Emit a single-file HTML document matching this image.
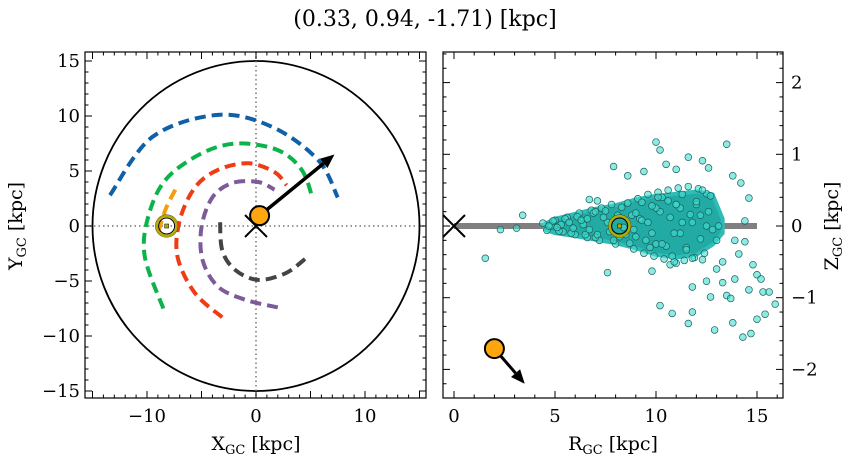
<!DOCTYPE html>
<html><head><meta charset="utf-8"><style>
body{margin:0;background:#fff}
svg text{font-family:"DejaVu Serif","Liberation Serif",serif;fill:#000}
</style></head><body>
<svg id="c" width="854" height="464" viewBox="0 0 854 464" xmlns="http://www.w3.org/2000/svg">
<text x="425" y="26" text-anchor="middle" font-size="22">(0.33, 0.94, -1.71) [kpc]</text>
<g id="L"></g>
<g id="R"></g>
</svg>
<script>
// ---- data: left panel arcs ----
const arcBlueX=[-13.4,-9.5,-3.5,1.5,5.7,7.5], arcBlueY=[2.8,8.1,10.1,9.0,6.0,2.6];
const arcGreenX=[-8.5,-10.2,-9.9,-8.3,-5.0,-1.7,2.0,4.2,5.2], arcGreenY=[-7.5,-2.8,0.8,4.2,6.6,7.5,6.9,5.1,2.5];
const arcRedX=[-3.1,-5.6,-7.2,-7.0,-5.6,-3.5,-0.7,1.7,2.8], arcRedY=[-8.3,-6.1,-2.8,0.5,3.5,5.1,5.7,4.9,3.7];
const arcPurpleX=[2.0,-1.0,-3.5,-4.9,-5.0,-4.0,-2.2,0.2,1.7], arcPurpleY=[-7.4,-6.7,-5.5,-3.1,-0.1,2.6,3.9,4.0,3.3];
const arcGrayX=[4.5,2.7,0.2,-1.9,-3.1,-3.3], arcGrayY=[-3.0,-4.3,-4.9,-4.0,-2.2,0.8];
const arcOrangeX=[-7.4,-8.3,-9.1], arcOrangeY=[3.3,1.5,-1.0];
const objXYZ=[0.33,0.94,-1.71], objVelTipXY=[7.2,6.5], sunX=-8.2, objR=2.0, objVelTipRZ=[3.5,-2.2], sunR=8.2;
const xTicksL=[-10,0,10], yTicksL=[-15,-10,-5,0,5,10,15];
// ---- data: right panel scatter ----
const coreR=[4.5,5,6,7,8,9,10,11,12,12.8,13.3];
const coreZhi=[0.03,0.1,0.17,0.24,0.29,0.37,0.42,0.45,0.48,0.44,0.1];
const coreZlo=[-0.05,-0.1,-0.14,-0.19,-0.24,-0.31,-0.4,-0.44,-0.4,-0.26,-0.1];
const starR=[10.0,10.2,13.5,7.9,8.6,9.4,10.5,11.0,11.6,12.3,12.6,13.8,14.2,14.6,6.7,7.1,3.4,2.3,3.1,1.55,7.6,9.8,10.2,10.8,11.8,11.6,11.8,12.7,13.5,13.7,12.5,13.3,13.9,14.8,15.0,15.2,14.6,15.3,15.6,15.9,15.0,15.4,14.4,14.1,14.4,13.9,13.0,13.3,12.3,11.0,10.7,12.9,13.8,14.3,14.7,
5.0,5.6,6.2,6.8,7.3,7.8,8.6,9.1,9.6,10.1,10.6,11.1,11.6,12.1,12.5,5.4,6.0,6.6,7.2,8.0,8.9,9.4,9.9,10.4,10.9,11.4,11.9,12.4,4.8,6.4,7.6,8.4,9.2,10.2,11.2,12.2,9.0,9.8,10.6,11.5,12.0,8.8,10.0,11.3,
4.4,4.6,4.9,5.2,5.5,5.8,6.1,6.5,6.9,7.0,7.5,7.9,8.3,8.7,9.3,9.7,10.3,10.8,11.3,11.8,12.3,12.7,13.0,4.7,5.3,5.9,6.3,6.7,7.4,7.7,8.1,8.5,9.0,9.5,10.0,10.5,11.0,11.5,12.0,12.6,13.1,5.1,5.7,6.6,7.1,8.9,9.3,9.8,10.3,10.7,11.2,11.7,12.2,12.8,8.2,9.6,10.9,11.8,12.5,7.0,10.1,11.0];
const starZ=[1.17,1.06,1.14,0.83,0.70,0.76,0.86,0.79,0.96,0.91,0.81,0.70,0.60,0.39,0.37,0.35,0.15,-0.05,-0.03,-0.45,-0.65,-0.63,-1.11,-1.22,-1.20,-1.36,-0.85,-0.99,-0.97,-1.01,-0.77,-0.79,-0.74,-0.54,-0.68,-0.74,-0.89,-0.92,-0.92,-1.09,-1.30,-1.23,-0.22,-0.39,0.07,-0.20,-0.60,-0.50,-0.47,-0.52,-0.54,-1.45,-1.35,-1.55,-1.5,
0.08,0.12,0.18,0.22,0.25,0.3,0.32,0.38,0.44,0.47,0.5,0.53,0.55,0.52,0.45,-0.08,-0.12,-0.16,-0.2,-0.25,-0.32,-0.38,-0.42,-0.46,-0.5,-0.48,-0.44,-0.38,0.0,0.02,0.05,-0.02,0.1,0.2,0.25,0.15,-0.15,-0.1,0.35,-0.3,0.3,0.15,-0.25,0.05,
0.04,-0.06,0.07,-0.07,0.1,-0.1,0.13,-0.12,0.18,-0.16,0.21,-0.2,0.26,-0.24,0.33,-0.3,0.4,-0.42,0.44,-0.45,0.5,0.42,-0.2,0.0,0.02,-0.03,0.08,-0.05,0.12,-0.08,0.15,-0.12,0.18,-0.2,0.25,-0.28,0.3,-0.33,0.34,0.2,0.0,-0.02,0.05,0.1,-0.12,-0.05,0.08,0.28,-0.25,0.12,-0.1,0.16,-0.18,-0.05,-0.15,0.05,-0.1,0.05,0.0,0.2,0.4,0.3];
const xTicksR=[0,5,10,15], zTicksR=[-2,-1,0,1,2];

const NS="http://www.w3.org/2000/svg";
function mk(p,t,a){const e=document.createElementNS(NS,t);for(const k in a)e.setAttribute(k,a[k]);p.appendChild(e);return e;}
const L=document.getElementById('L');
const lx=v=>256+v*10.9, ly=v=>226-v*11;
const LX0=85,LX1=426,LY0=52,LY1=398;
const cp=mk(L,'clipPath',{id:'cl'});mk(cp,'rect',{x:LX0,y:LY0,width:LX1-LX0,height:LY1-LY0});
const gl=mk(L,'g',{'clip-path':'url(#cl)'});
let e=mk(gl,'ellipse',{cx:lx(0),cy:ly(0),rx:15*10.9,ry:15*11,fill:'none',stroke:'#000','stroke-width':1.8});

e=mk(gl,'line',{x1:LX0,x2:LX1,y1:ly(0),y2:ly(0),stroke:'#777','stroke-width':1.5,'stroke-dasharray':'1.5 3'});

e=mk(gl,'line',{x1:lx(0),x2:lx(0),y1:LY0,y2:LY1,stroke:'#777','stroke-width':1.5,'stroke-dasharray':'1.5 3'});

function smooth(xs,ys,fx,fy){const P=xs.map((x,i)=>[fx(x),fy(ys[i])]);let d='M'+P[0].join(',');
 for(let i=0;i<P.length-1;i++){const p0=P[i-1]||P[i],p1=P[i],p2=P[i+1],p3=P[i+2]||p2;
 d+=' C'+(p1[0]+(p2[0]-p0[0])/6)+','+(p1[1]+(p2[1]-p0[1])/6)+' '+(p2[0]-(p3[0]-p1[0])/6)+','+(p2[1]-(p3[1]-p1[1])/6)+' '+p2[0]+','+p2[1];}return d;}
const arcs=[[arcBlueX,arcBlueY,'#1060a8','arc-blue'],[arcGreenX,arcGreenY,'#0cb34a','arc-green'],[arcRedX,arcRedY,'#f03c14','arc-red'],[arcPurpleX,arcPurpleY,'#7d5a9a','arc-purple'],[arcGrayX,arcGrayY,'#444','arc-gray'],[arcOrangeX,arcOrangeY,'#f59e0b','arc-orange']];
arcs.forEach(a=>{e=mk(gl,'path',{d:smooth(a[0],a[1],lx,ly),fill:'none',stroke:a[2],'stroke-width':4,'stroke-dasharray':'11 6'});
});
function sun(g,x,y){const s=mk(g,'g',{});
 mk(s,'circle',{cx:x,cy:y,r:11,fill:'none',stroke:'#000','stroke-width':1});mk(s,'circle',{cx:x,cy:y,r:10,fill:'none',stroke:'#b8a800','stroke-width':2.5});
 mk(s,'circle',{cx:x,cy:y,r:8,fill:'none',stroke:'#000','stroke-width':1});mk(s,'rect',{x:x-2,y:y-2,width:4,height:4,fill:'#b8a800',stroke:'#000','stroke-width':0.5});}
function xmark(g,x,y){const s=mk(g,'path',{d:`M${x-11},${y-11}L${x+11},${y+11}M${x-11},${y+11}L${x+11},${y-11}`,stroke:'#000','stroke-width':2});
 }
function arrow(g,x1,y1,x2,y2,w){const a=Math.atan2(y2-y1,x2-x1),h=14,hw=6;const s=mk(g,'g',{});
 const bx=x2-h*Math.cos(a),by=y2-h*Math.sin(a);mk(s,'line',{x1,y1,x2:bx,y2:by,stroke:'#000','stroke-width':w});
 mk(s,'path',{d:`M${x2},${y2}L${bx-hw*Math.sin(a)},${by+hw*Math.cos(a)}L${bx+hw*Math.sin(a)},${by-hw*Math.cos(a)}Z`,fill:'#000'});}
function obj(g,x,y){const s=mk(g,'circle',{cx:x,cy:y,r:9.5,fill:'#ffa510',stroke:'#000','stroke-width':2});}
sun(gl,lx(sunX),ly(0));xmark(gl,lx(0),ly(0));
arrow(gl,lx(objXYZ[0]),ly(objXYZ[1]),lx(objVelTipXY[0]),ly(objVelTipXY[1]),3.5);
obj(gl,lx(objXYZ[0]),ly(objXYZ[1]));
function frame(g,x0,y0,x1,y1,name){const r=mk(g,'rect',{x:x0,y:y0,width:x1-x0,height:y1-y0,fill:'none',stroke:'#000','stroke-width':1.2});}
function tk(g,x1,y1,x2,y2){mk(g,'line',{x1,y1,x2,y2,stroke:'#000','stroke-width':1});}
frame(L,LX0,LY0,LX1,LY1,'xy-frame');
for(let v=-15;v<=15;v++){const x=lx(v),len=v%5==0?7:3.5;if(x<LX0||x>LX1)continue;tk(L,x,LY1,x,LY1-len);tk(L,x,LY0,x,LY0+len);}
for(let v=-15;v<=15;v++){const y=ly(v),len=v%5==0?7:3.5;if(y<LY0||y>LY1)continue;tk(L,LX0,y,LX0+len,y);tk(L,LX1,y,LX1-len,y);}
xTicksL.forEach(v=>{e=mk(L,'text',{x:lx(v),y:422,'text-anchor':'middle','font-size':18});e.textContent=v<0?'\u2212'+(-v):v;});
yTicksL.forEach(v=>{e=mk(L,'text',{x:LX0-5,y:ly(v)+6,'text-anchor':'end','font-size':18});e.textContent=v<0?'\u2212'+(-v):v;});
e=mk(L,'text',{x:256,y:450,'text-anchor':'middle','font-size':19});e.innerHTML='X<tspan font-size="13" dy="4">GC</tspan><tspan dy="-4"> [kpc]</tspan>';
e=mk(L,'text',{x:0,y:0,'text-anchor':'middle','font-size':19,transform:'translate(22,226) rotate(-90)'});e.innerHTML='Y<tspan font-size="13" dy="4">GC</tspan><tspan dy="-4"> [kpc]</tspan>';

const R=document.getElementById('R');
const rx=v=>454+v*20.2, rz=v=>226-v*71.7;
const RX0=443,RX1=783,RY0=52,RY1=398;
const cp2=mk(R,'clipPath',{id:'cr'});mk(cp2,'rect',{x:RX0,y:RY0,width:RX1-RX0,height:RY1-RY0});
const gr=mk(R,'g',{'clip-path':'url(#cr)'});
e=mk(gr,'line',{x1:rx(0),x2:rx(15),y1:rz(0),y2:rz(0),stroke:'#808080','stroke-width':6});
let pd='M'+coreR.map((r,i)=>rx(r)+','+rz(coreZhi[i])).join('L');
for(let i=coreR.length-1;i>=0;i--)pd+='L'+rx(coreR[i])+','+rz(coreZlo[i]);
e=mk(gr,'path',{d:pd+'Z',fill:'#22aaa5',stroke:'#2fbcb7','stroke-width':4,'stroke-linejoin':'round'});
const sg=mk(gr,'g',{});
starR.forEach((r,i)=>{const c=mk(sg,'circle',{cx:rx(r),cy:rz(starZ[i]),r:3.4,fill:'rgba(64,224,208,0.6)',stroke:'#1f5f5c','stroke-width':0.7});
});
xmark(gr,rx(0),rz(0));sun(gr,rx(sunR),rz(0));
arrow(gr,rx(objR),rz(objXYZ[2]),rx(objVelTipRZ[0]),rz(objVelTipRZ[1]),3);
obj(gr,rx(objR),rz(objXYZ[2]));
frame(R,RX0,RY0,RX1,RY1,'rz-frame');
for(let v=0;v<=16;v++){const x=rx(v),len=v%5==0?7:3.5;tk(R,x,RY1,x,RY1-len);tk(R,x,RY0,x,RY0+len);}
for(let k=-12;k<=12;k++){const v=k/5,y=rz(v),len=k%5==0?7:3.5;if(y<RY0||y>RY1)continue;tk(R,RX0,y,RX0+len,y);tk(R,RX1,y,RX1-len,y);}
xTicksR.forEach(v=>{e=mk(R,'text',{x:rx(v),y:422,'text-anchor':'middle','font-size':18});e.textContent=v;});
zTicksR.forEach(v=>{e=mk(R,'text',{x:RX1+8,y:rz(v)+6,'text-anchor':'start','font-size':18});e.textContent=v<0?'\u2212'+(-v):v;});
e=mk(R,'text',{x:613,y:450,'text-anchor':'middle','font-size':19});e.innerHTML='R<tspan font-size="13" dy="4">GC</tspan><tspan dy="-4"> [kpc]</tspan>';
e=mk(R,'text',{x:0,y:0,'text-anchor':'middle','font-size':19,transform:'translate(838,226) rotate(-90)'});e.innerHTML='Z<tspan font-size="13" dy="4">GC</tspan><tspan dy="-4"> [kpc]</tspan>';
</script>
</body></html>
